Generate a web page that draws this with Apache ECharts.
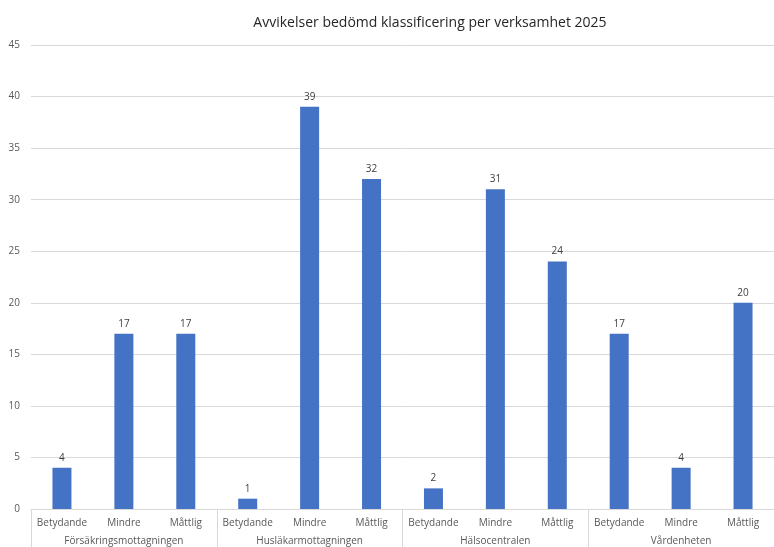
<!DOCTYPE html>
<html>
<head>
<meta charset="utf-8">
<script src="https://cdn.jsdelivr.net/npm/echarts@6/dist/echarts.min.js"></script>
<style>
  html, body { margin: 0; padding: 0; background: #fff; }
  #chart { width: 774px; height: 547px; }
</style>
</head>
<body>
<div id="chart"></div>
<script>
// data
const groups = ['Försäkringsmottagningen', 'Husläkarmottagningen', 'Hälsocentralen', 'Vårdenheten'];
const levels = ['Betydande', 'Mindre', 'Måttlig'];
const counts = [4, 17, 17, 1, 39, 32, 2, 31, 24, 17, 4, 20];
const yTicks = [0, 5, 10, 15, 20, 25, 30, 35, 40, 45];

const categories = [];
groups.forEach(g => levels.forEach(l => categories.push(l)));

const myChart = echarts.init(document.getElementById('chart'));
const font = 'Open Sans';
const option = {
    animation: false,
    title: {
        text: 'Avvikelser bedömd klassificering per verksamhet 2025',
        left: 425,
        top: 11,
        textAlign: 'center',
        textStyle: { fontFamily: font, fontSize: 14, fontWeight: 'normal', color: '#262626' }
    },
    grid: { left: 31, right: 0, top: 45, bottom: 38 },
    xAxis: [
        {
            type: 'category',
            data: categories,
            axisLine: { lineStyle: { color: '#d9d9d9' } },
            axisTick: { show: false },
            axisLabel: { color: '#595959', fontFamily: font, fontSize: 10, margin: 9, interval: 0 }
        },
        {
            type: 'category',
            position: 'bottom',
            data: groups,
            axisLine: { show: false },
            axisTick: { show: true, length: 38, lineStyle: { color: '#d9d9d9' } },
            axisLabel: { color: '#595959', fontFamily: font, fontSize: 10, margin: 27 }
        }
    ],
    yAxis: {
        type: 'value',
        min: yTicks[0],
        max: yTicks[yTicks.length - 1],
        interval: 5,
        axisLine: { show: false },
        axisTick: { show: false },
        splitLine: { lineStyle: { color: '#d9d9d9' } },
        axisLabel: { color: '#595959', fontFamily: font, fontSize: 10, margin: 11 }
    },
    series: [
        {
            type: 'bar',
            xAxisIndex: 0,
            data: counts,
            barWidth: 19,
            itemStyle: { color: '#4472c4' },
            label: {
                show: true,
                position: 'top',
                distance: 5,
                color: '#404040',
                fontFamily: font,
                fontSize: 10
            }
        }
    ]
};
myChart.setOption(option);
</script>
</body>
</html>
